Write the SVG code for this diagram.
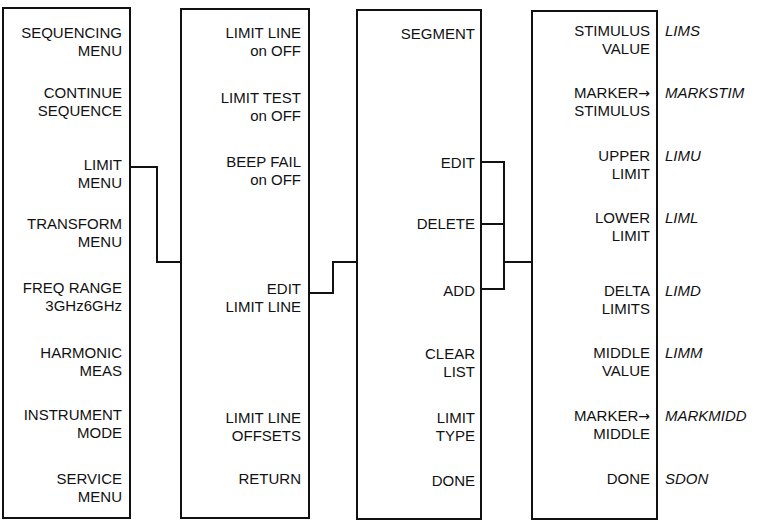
<svg xmlns="http://www.w3.org/2000/svg" width="768" height="529" viewBox="0 0 768 529">
<style>
.box{fill:#fff;stroke:#111;stroke-width:2}
.c{fill:none;stroke:#111;stroke-width:2}
text{font-family:"Liberation Sans",Arial,sans-serif;font-size:15px;fill:#111}
.k{text-anchor:end}
.m{font-style:italic}
.ar{font-family:"DejaVu Sans",sans-serif;font-size:14px}
</style>
<rect width="768" height="529" fill="#fff"/>
<g id="menu1">
<rect class="box" x="3" y="8" width="127" height="510"/>
<text class="k" x="122" y="38">SEQUENCING<tspan x="122" dy="18">MENU</tspan></text>
<text class="k" x="122" y="98">CONTINUE<tspan x="122" dy="18">SEQUENCE</tspan></text>
<text class="k" x="122" y="170">LIMIT<tspan x="122" dy="18">MENU</tspan></text>
<text class="k" x="122" y="229">TRANSFORM<tspan x="122" dy="18">MENU</tspan></text>
<text class="k" x="122" y="293">FREQ RANGE<tspan x="122" dy="18">3GHz6GHz</tspan></text>
<text class="k" x="122" y="358">HARMONIC<tspan x="122" dy="18">MEAS</tspan></text>
<text class="k" x="122" y="420">INSTRUMENT<tspan x="122" dy="18">MODE</tspan></text>
<text class="k" x="122" y="484">SERVICE<tspan x="122" dy="18">MENU</tspan></text>
</g>
<g id="menu2">
<rect class="box" x="181" y="9" width="128" height="509"/>
<text class="k" x="301" y="38">LIMIT LINE<tspan x="301" dy="18">on OFF</tspan></text>
<text class="k" x="301" y="103">LIMIT TEST<tspan x="301" dy="18">on OFF</tspan></text>
<text class="k" x="301" y="167">BEEP FAIL<tspan x="301" dy="18">on OFF</tspan></text>
<text class="k" x="301" y="294">EDIT<tspan x="301" dy="18">LIMIT LINE</tspan></text>
<text class="k" x="301" y="423">LIMIT LINE<tspan x="301" dy="18">OFFSETS</tspan></text>
<text class="k" x="301" y="484">RETURN</text>
</g>
<g id="menu3">
<rect class="box" x="357" y="10" width="124" height="509"/>
<text class="k" x="475" y="39">SEGMENT</text>
<text class="k" x="475" y="168">EDIT</text>
<text class="k" x="475" y="229">DELETE</text>
<text class="k" x="475" y="296">ADD</text>
<text class="k" x="475" y="359">CLEAR<tspan x="475" dy="18">LIST</tspan></text>
<text class="k" x="475" y="423">LIMIT<tspan x="475" dy="18">TYPE</tspan></text>
<text class="k" x="475" y="486">DONE</text>
</g>
<g id="menu4">
<rect class="box" x="532" y="11" width="125" height="508"/>
<text class="k" x="650" y="36">STIMULUS<tspan x="650" dy="18">VALUE</tspan></text>
<text class="k" x="650" y="98">MARKER<tspan class="ar">→</tspan><tspan x="650" dy="18">STIMULUS</tspan></text>
<text class="k" x="650" y="161">UPPER<tspan x="650" dy="18">LIMIT</tspan></text>
<text class="k" x="650" y="223">LOWER<tspan x="650" dy="18">LIMIT</tspan></text>
<text class="k" x="650" y="296">DELTA<tspan x="650" dy="18">LIMITS</tspan></text>
<text class="k" x="650" y="358">MIDDLE<tspan x="650" dy="18">VALUE</tspan></text>
<text class="k" x="650" y="421">MARKER<tspan class="ar">→</tspan><tspan x="650" dy="18">MIDDLE</tspan></text>
<text class="k" x="650" y="484">DONE</text>
</g>
<g id="mnemonics">
<text class="m" x="665" y="36">LIMS</text>
<text class="m" x="665" y="98">MARKSTIM</text>
<text class="m" x="665" y="161">LIMU</text>
<text class="m" x="665" y="223">LIML</text>
<text class="m" x="665" y="296">LIMD</text>
<text class="m" x="665" y="358">LIMM</text>
<text class="m" x="665" y="421">MARKMIDD</text>
<text class="m" x="665" y="484">SDON</text>
</g>
<g id="connectors">
<polyline class="c" points="130,167 157,167 157,262 181,262"/>
<polyline class="c" points="309,293 333,293 333,262 357,262"/>
<polyline class="c" points="481,162 504,162 504,289 481,289"/>
<line class="c" x1="481" y1="224" x2="504" y2="224"/>
<line class="c" x1="504" y1="262" x2="532" y2="262"/>
</g>
</svg>
